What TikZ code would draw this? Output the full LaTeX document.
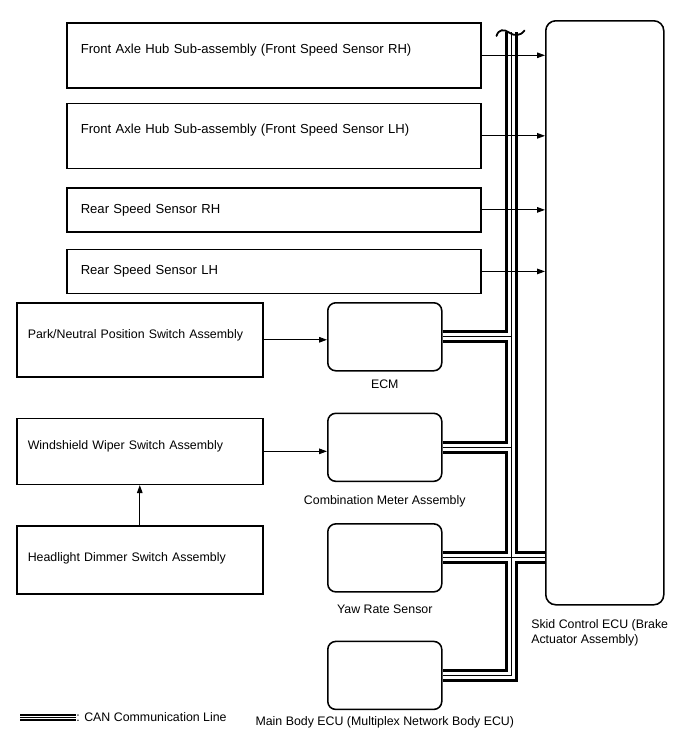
\documentclass[tikz,border=0pt]{standalone}
\usepackage{fontspec}
\setsansfont{Liberation Sans}
\usetikzlibrary{positioning,arrows.meta,calc}

\begin{document}
\begin{tikzpicture}[
  x=0.25mm, y=-0.25mm,
  font=\sffamily\fontsize{9.3pt}{11.2pt}\selectfont,
  small/.style={font=\sffamily\fontsize{8.8pt}{11.2pt}\selectfont},
  sensor/.style={
    rectangle,
    draw=black,
    line width=1.1pt,
    minimum width=103.5mm,
    text width=96.5mm,
    inner xsep=3.5mm,
    align=left,
  },
  switch/.style={
    rectangle,
    small,
    draw=black,
    line width=1.1pt,
    minimum width=61.5mm,
    text width=56mm,
    inner xsep=2.75mm,
    align=left,
  },
  ecu/.style={
    rectangle,
    draw=black,
    line width=1.1pt,
    rounded corners=2mm,
    minimum width=28.5mm,
    minimum height=17mm,
  },
  sig/.style={-{Triangle[length=2mm, width=1.4mm]}, line width=0.7pt, draw=black},
  canbus/.style={
    line width=3.3mm, draw=black,
    postaction={draw=white, line width=1.8mm},
    postaction={draw=black, line width=0.3mm},
  },
  cankey/.style={
    line width=1.55mm, draw=black,
    postaction={draw=white, line width=0.75mm},
    postaction={draw=black, line width=0.2mm},
  },
  breakmark/.style={line width=0.45mm, draw=black, line cap=round},
]

  \useasboundingbox (0,0) rectangle (688,755);

  % --- Top: wheel speed sensors ---
  \node[sensor, minimum height=16.25mm, text depth=3.5mm, anchor=north west] (frh) at (66,22) {Front Axle Hub Sub-assembly (Front Speed Sensor RH)};
  \node[sensor, minimum height=16.25mm, text depth=3.5mm, below=3.5mm of frh] (flh) {Front Axle Hub Sub-assembly (Front Speed Sensor LH)};
  \node[sensor, minimum height=11mm, below=4.5mm of flh] (rrh) {Rear Speed Sensor RH};
  \node[sensor, minimum height=11mm, below=4mm of rrh] (rlh) {Rear Speed Sensor LH};

  % --- Left: switches ---
  \node[switch, minimum height=18.5mm, text depth=3mm, anchor=north west] (pnp) at (16,302) {Park/Neutral Position Switch Assembly};
  \node[switch, minimum height=16.5mm, text depth=3mm, below=10mm of pnp] (wiper) {Windshield Wiper Switch Assembly};
  \node[switch, minimum height=17mm, text depth=1.5mm, below=10mm of wiper] (dimmer) {Headlight Dimmer Switch Assembly};

  % --- Middle: ECUs on the CAN line ---
  \node[ecu, anchor=north west, label={[small, label distance=0.9mm]below:ECM}] (ecm) at (327,302) {};
  \node[ecu, below=10.25mm of ecm, label={[small, label distance=2.1mm]below:Combination Meter Assembly}] (meter) {};
  \node[ecu, below=10.25mm of meter, label={[small, label distance=1.8mm]below:Yaw Rate Sensor}] (yaw) {};
  \node[ecu, below=12mm of yaw, label={[small, label distance=0.4mm]below:Main Body ECU (Multiplex Network Body ECU)}] (body) {};

  % --- Right: skid control ECU ---
  \node[ecu, minimum width=29.5mm, minimum height=146mm, rounded corners=2.5mm, anchor=north west] (skid) at (545,20) {};
  \node[small, below=3.3mm of skid.south west, anchor=north west, xshift=-3.5mm, inner sep=0pt, align=left] (skidname) {Skid Control ECU (Brake\\Actuator Assembly)};

  % --- CAN communication line ---
  \coordinate (bustop) at (511.5,32);
  \coordinate (buscorner) at (bustop |- body.east);
  \draw[canbus] (bustop) -- (buscorner) -- (body.east)
    (ecm.east) -- (ecm.east -| bustop)
    (meter.east) -- (meter.east -| bustop)
    (yaw.east) -- (yaw.east -| skid.west);
  \draw[breakmark] (496.5,36) .. controls (498.5,29) and (504,29) .. (509,32.5) .. controls (514,36) and (520,36.5) .. (524.5,30.5);

  % --- Signal lines ---
  \foreach \s in {frh, flh, rrh, rlh} {
    \draw[sig] (\s.east) -- (\s.east -| skid.west);
  }
  \draw[sig] (pnp.east) -- (pnp.east -| ecm.west);
  \draw[sig] (wiper.east) -- (wiper.east -| meter.west);
  \draw[sig] (dimmer) -- (wiper);

  % --- Key ---
  \coordinate (keyA) at (20,717.5);
  \coordinate (keyB) at (76,717.5);
  \draw[cankey] (keyA) -- (keyB);
  \node[small, right=0pt of keyB, inner sep=0pt] (keytext) {: CAN Communication Line};

\end{tikzpicture}
\end{document}
